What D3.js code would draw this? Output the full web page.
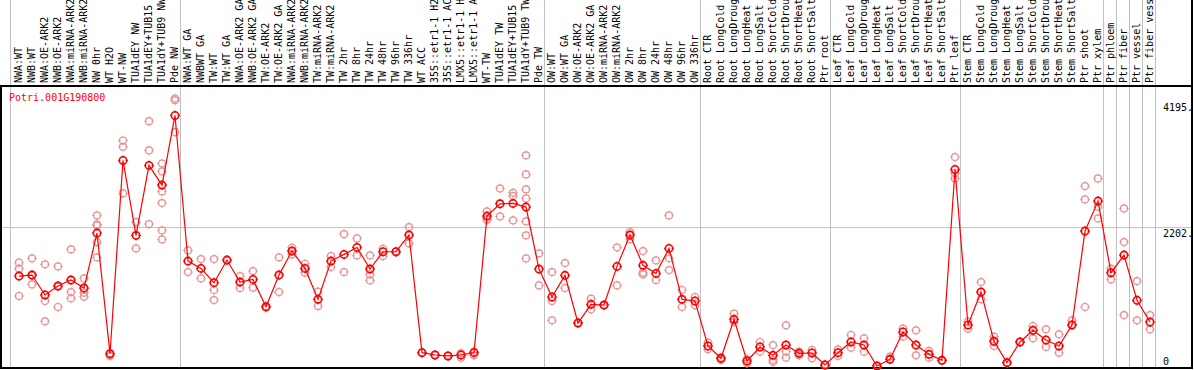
<!DOCTYPE html>
<html>
<head>
<meta charset="utf-8">
<script src="https://cdn.jsdelivr.net/npm/d3@7"></script>
<style>
  body { margin: 0; background: #fff; }
  text { font-family: "DejaVu Sans Mono", monospace; font-size: 10px; }
</style>
</head>
<body>
<div id="chart"></div>
<script>
const geneId = 'Potri.001G190800';

const samples = [
  'NWA:WT', 'NWB:WT', 'NWA:OE-ARK2', 'NWB:OE-ARK2', 'NWA:miRNA-ARK2', 'NWB:miRNA-ARK2',
  'NW 0hr', 'WT H2O', 'WT-NW', 'TUA1dEY NW', 'TUA1dEY+TUB15 NW', 'TUA1dY+TUB9 NW', 'Pde NW',
  'NWA:WT GA', 'NWBWT GA', 'TW:WT', 'TW:WT GA', 'NWA:OE-ARK2 GA', 'NWB:OE-ARK2 GA',
  'TW:OE-ARK2', 'TW:OE-ARK2 GA', 'NWA:miRNA-ARK2 GA', 'NWB:miRNA-ARK2 GA', 'TW:miRNA-ARK2',
  'TW:miRNA-ARK2 GA', 'TW 2hr', 'TW 8hr', 'TW 24hr', 'TW 48hr', 'TW 96hr', 'TW 336hr',
  'WT ACC', '35S::etr1-1 H2O', '35S::etr1-1 ACC', 'LMX5::etr1-1 H2O', 'LMX5::etr1-1 ACC',
  'WT-TW', 'TUA1dEY TW', 'TUA1dEY+TUB15 TW', 'TUA1dY+TUB9 TW', 'Pde TW',
  'OW:WT', 'OW:WT GA', 'OW:OE-ARK2', 'OW:OE-ARK2 GA', 'OW:miRNA-ARK2', 'OW:miRNA-ARK2 GA',
  'OW 2hr', 'OW 8hr', 'OW 24hr', 'OW 48hr', 'OW 96hr', 'OW 336hr',
  'Root CTR', 'Root LongCold', 'Root LongDrought', 'Root LongHeat', 'Root LongSalt',
  'Root ShortCold', 'Root ShortDrought', 'Root ShortHeat', 'Root ShortSalt', 'Ptr root',
  'Leaf CTR', 'Leaf LongCold', 'Leaf LongDrought', 'Leaf LongHeat', 'Leaf LongSalt',
  'Leaf ShortCold', 'Leaf ShortDrought', 'Leaf ShortHeat', 'Leaf ShortSalt', 'Ptr leaf',
  'Stem CTR', 'Stem LongCold', 'Stem LongDrought', 'Stem LongHeat', 'Stem LongSalt',
  'Stem ShortCold', 'Stem ShortDrought', 'Stem ShortHeat', 'Stem ShortSalt', 'Ptr shoot',
  'Ptr xylem', 'Ptr phloem', 'Ptr fiber', 'Ptr vessel', 'Ptr fiber vessel'
];

// index of the last sample in each group (a separator follows it)
const groupEnds = [12, 40, 52, 62, 72, 83, 84, 85, 86, 87];

const means = [
  1435, 1451, 1135, 1277, 1372, 1245, 2115, 206, 3265, 2078, 3186, 2875, 3977,
  1672, 1556, 1330, 1688, 1340, 1382, 950, 1451, 1831, 1556, 1066, 1672, 1778, 1888, 1546,
  1820, 1820, 2084, 222, 185, 170, 185, 222, 2384, 2579, 2585, 2527, 1546,
  1103, 1446, 692, 987, 976, 1588, 2084, 1604, 1477, 1873, 1066, 1040,
  328, 133, 750, 90, 312, 180, 343, 212, 217, 27,
  222, 391, 343, 11, 117, 549, 343, 196, 101, 3122,
  660, 1182, 402, 64, 391, 576, 423, 328, 660, 2147, 2622,
  1488, 1767, 1050, 707
];

const replicates = [
  [1646, 1551, 1119], [1715, 1451, 1303], [1620, 1040, 718], [1588, 1277, 945],
  [1857, 1182, 1082], [1398, 1171, 1108], [2395, 2252, 2237, 1973, 1730], [206, 180, 170],
  [3581, 3481, 2743], [2289, 2078, 1873], [3887, 3423, 2258], [3217, 3091, 2774, 2590, 2158, 2015],
  [4246, 4219, 3713],
  [1841, 1498], [1704, 1398], [1704, 1214, 1055], [1688], [1435, 1245], [1514, 1251],
  [950, 934], [1730, 1182], [1883, 1778], [1630, 1488], [1187, 960], [1751, 1577],
  [2099, 1498], [2031, 1762], [1762, 1461, 1366], [1867, 1751], [1820, 1820], [2210, 1952],
  [222, 222], [185, 185], [170, 170], [212, 143], [238, 180], [2458, 2342, 2321],
  [2822, 2379], [2753, 2701, 2316], [3344, 3043, 2806, 2664, 2300, 2078, 1714], [1794, 1287],
  [1498, 1040, 734], [1641, 1245], [692, 692], [1077, 908], [976, 976], [1889, 1287],
  [2131, 2015], [1831, 1488, 1461], [1683, 1372], [2395, 1715, 1530], [1214, 945], [1103, 971],
  [380, 275], [143, 106], [839, 707], [117, 54], [391, 238], [343, 106, 75],
  [655, 238, 143], [238, 180], [264, 133], [38, 27],
  [275, 170], [502, 301], [449, 238], [11, 11], [159, 117], [602, 475],
  [576, 180], [249, 143], [101, 101], [3318, 3059, 2980],
  [713, 602], [1340, 1066], [475, 328], [64, 64], [391, 391], [644, 449],
  [591, 312], [512, 222], [734, 660], [2859, 2648, 945], [2980, 2532, 2347],
  [1551, 1382], [2505, 1973, 818], [1356, 734], [818, 591]
];

const tickValues = [0, 2202, 4195];
const tickLabels = ['0', '2202.', '4195.'];

const width = 1194;
const height = 370;
const plotTop = 86;
const plotBottom = 368;

const x = d3.scalePoint()
  .domain(d3.range(samples.length))
  .range([19, 19 + 13 * (samples.length - 1)]);

const y = d3.scaleLinear()
  .domain([0, 4195])
  .range([366.7, 101.7]);

const svg = d3.select('#chart')
  .append('svg')
  .attr('width', width)
  .attr('height', height);

// separators between sample groups
const seps = [x(0) - 8.5].concat(groupEnds.map(i => x(i) + 5.5));
svg.append('g')
  .selectAll('line')
  .data(seps)
  .enter().append('line')
    .attr('x1', d => d).attr('x2', d => d)
    .attr('y1', 0).attr('y2', plotBottom)
    .style('stroke', '#c0c0c0')
    .style('stroke-width', 1);

// grid line at middle tick
svg.append('line')
  .attr('x1', 1).attr('x2', width - 1)
  .attr('y1', y(2202)).attr('y2', y(2202))
  .style('stroke', '#c0c0c0')
  .style('stroke-width', 1);

// frame
svg.append('rect')
  .attr('x', 1).attr('y', plotTop)
  .attr('width', width - 3).attr('height', plotBottom - plotTop)
  .style('fill', 'none')
  .style('stroke', 'black')
  .style('stroke-width', 2);
svg.append('line')
  .attr('x1', width - 2).attr('x2', width - 2)
  .attr('y1', 0).attr('y2', plotTop)
  .style('stroke', 'black')
  .style('stroke-width', 2);

// sample labels, rotated
svg.append('g')
  .selectAll('text')
  .data(samples)
  .enter().append('text')
    .attr('transform', (d, i) => `translate(${x(i) + 3},83) rotate(-90)`)
    .style('fill', 'black')
    .text(d => d);

// y tick labels on the right
svg.append('g')
  .selectAll('text')
  .data(tickValues)
  .enter().append('text')
    .attr('x', 1163)
    .attr('y', d => d === 0 ? y(d) - 2 : y(d) + 9)
    .style('fill', 'black')
    .text((d, i) => tickLabels[i]);

svg.append('text')
  .attr('x', 9)
  .attr('y', 100.5)
  .style('fill', 'red')
  .text(geneId);

function marker(g, cx, cy, r, color, sw) {
  g.append('circle')
    .attr('cx', cx).attr('cy', cy).attr('r', r)
    .style('fill', 'none')
    .style('stroke', color)
    .style('stroke-width', sw);
  const t = r + 1.3;
  g.append('path')
    .attr('d', `M${cx},${cy - t}V${cy - r + 1}M${cx},${cy + t}V${cy + r - 1}M${cx - t},${cy}H${cx - r + 1}M${cx + t},${cy}H${cx + r - 1}`)
    .style('stroke', color)
    .style('stroke-width', 1);
}

// replicate points
const repG = svg.append('g');
replicates.forEach((reps, i) => {
  reps.forEach(v => marker(repG, x(i), y(v), 3.5, '#e89292', 1.2));
});

// mean line
const line = d3.line()
  .x((d, i) => x(i))
  .y(d => y(d));

svg.append('path')
  .datum(means)
  .attr('d', line)
  .style('fill', 'none')
  .style('stroke', 'red')
  .style('stroke-width', 1.2);

const meanG = svg.append('g');
means.forEach((v, i) => marker(meanG, x(i), y(v), 3.7, 'red', 1.6));
</script>
</body>
</html>
